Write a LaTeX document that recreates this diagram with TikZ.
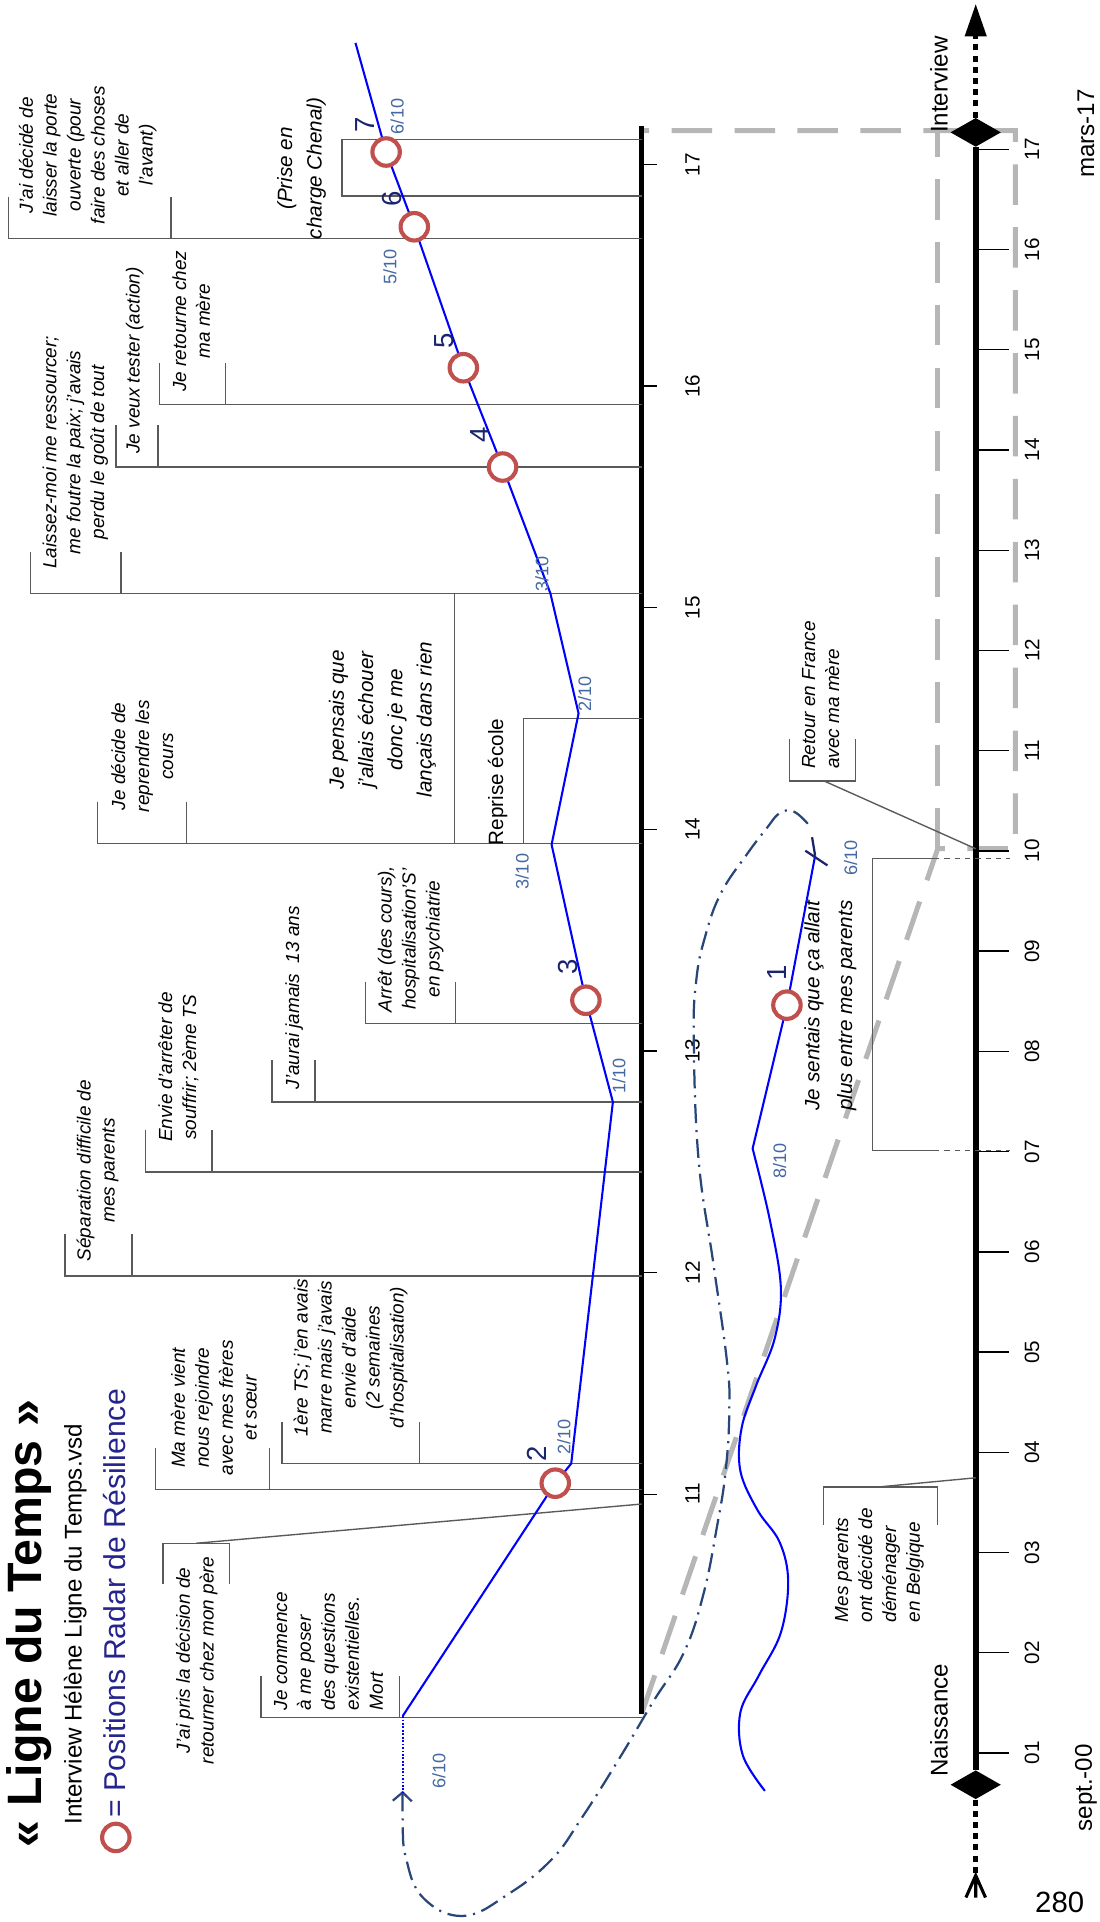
\documentclass[tikz,border=0pt]{standalone}
\usepackage{fontspec}
\setmainfont{Liberation Sans}
\usepackage{xcolor}
\usepackage{tikz}
\usetikzlibrary{calc}
\usetikzlibrary{arrows.meta}
\usetikzlibrary{shapes.geometric}

\definecolor{posblue}{RGB}{0,0,255}
\definecolor{radarred}{RGB}{192,80,77}
\definecolor{scoreblue}{RGB}{68,104,160}
\definecolor{pathnavy}{RGB}{40,70,120}
\definecolor{numnavy}{RGB}{25,35,110}
\definecolor{legendnavy}{RGB}{36,36,140}
\definecolor{leadgrey}{RGB}{90,90,90}
\definecolor{zoomgrey}{RGB}{182,182,182}

\begin{document}
\begin{tikzpicture}[x=0.025cm,y=-0.025cm,
	note/.style={rotate=90,font=\itshape\fontsize{11}{13.9}\selectfont,align=center,inner sep=0pt},
	bignote/.style={note,font=\itshape\fontsize{12}{17}\selectfont},
	leader/.style={draw=leadgrey,line width=0.8pt},
	radar/.style={circle,draw=radarred,fill=white,line width=2.4pt,minimum size=5.6mm,inner sep=0pt},
	posline/.style={draw=posblue,line width=1.2pt,line join=round},
	score/.style={rotate=90,text=scoreblue,font=\fontsize{10.5}{12}\selectfont,inner sep=0pt},
	num/.style={rotate=90,text=numnavy,font=\fontsize{16}{18}\selectfont,inner sep=0pt},
	axlab/.style={rotate=90,font=\fontsize{12}{14}\selectfont,inner sep=0pt},
	zoomline/.style={draw=zoomgrey,line width=2.9pt,dash pattern=on 23.5pt off 13pt},
	dotline/.style={line width=3pt,dash pattern=on 3.5pt off 3pt}]
		\useasboundingbox (0,0) rectangle (897,1568);
		% titre
		\node[rotate=90,anchor=base,font=\bfseries\fontsize{28}{30}\selectfont] (title) at (34,1324.5) {« Ligne du Temps »};
		\node[rotate=90,anchor=base,font=\fontsize{14}{16}\selectfont] (subtitle) at (66.5,1325) {Interview Hélène Ligne du Temps.vsd};
		\node[radar] (legcircle) at (94.5,1499) {};
		\node[rotate=90,anchor=base,text=legendnavy,font=\fontsize{17.5}{20}\selectfont] (legend) at (102,1308) {= Positions Radar de Résilience};
		\node[font=\fontsize{17}{19}\selectfont] (page) at (864.5,1552) {280};
		% zoom 2010-2017
		\draw[zoomline] (523.5,1398) -- (765,692.4) -- (828.4,692.4) -- (828.4,106.6) -- (523.5,106.6);
		\draw[zoomline] (765,692.4) -- (765,106.6);
		% axe des ages
		\draw[line width=2.6pt] (523.5,103) -- (523.5,1398);
		\foreach \a in {11,...,17}{
			\draw[line width=0.8pt] (523.5,{1219-(\a-11)*180.8}) -- (536,{1219-(\a-11)*180.8});
			\node[axlab] at (565,{1219-(\a-11)*180.8}) {\a};
		}
		% axe des annees
		\node[diamond,fill=black,minimum width=10.3mm,minimum height=5.9mm,inner sep=0pt] (birth) at (796,1456) {};
		\node[diamond,fill=black,minimum width=10.3mm,minimum height=5.9mm,inner sep=0pt] (interview) at (796,108) {};
		\draw[line width=3.5pt] (birth) -- (interview);
		\draw[dotline,-{Triangle[length=19pt,width=12pt]}] (interview.north) -- (796,3);
		\coordinate (tail) at (796,1530);
		\draw[dotline] (birth.south) -- (tail);
		\draw[line width=1.8pt] (788,1548) -- (tail) -- (804,1548) (tail) -- (796,1548);
		\foreach \lab [count=\k] in {01,02,03,04,05,06,07,08,09,10,11,12,13,14,15,16,17}{
			\draw[line width=0.8pt] (796,{1430.1-(\k-1)*81.77}) -- (823,{1430.1-(\k-1)*81.77});
			\node[axlab] at (842,{1430.1-(\k-1)*81.77}) {\lab};
		}
		\node[axlab,font=\fontsize{14}{16}\selectfont] (naissance) at (766,1403.5) {Naissance};
		\node[axlab,font=\fontsize{14}{16}\selectfont] (itw) at (766,69) {Interview};
		\node[axlab,font=\fontsize{14}{16}\selectfont] (start) at (886,1458.5) {sept.-00};
		\node[axlab,font=\fontsize{14}{16}\selectfont] (stop) at (886,109) {mars-17};
		% crochets
		\foreach \yy/\xl/\xr in {194.5/7/139.4,330/130/184,381/94.5/129,484/25/98.8,688/79.5/152,835/298/371.6,899/222/257,956/118.5/173,1041/53/107.6,1194/230/342,1215/127/220,1401/213/326}
			\draw[leader] (\xl,\yy-34) -- (\xl,\yy) -- (523.5,\yy) (\xr,\yy) -- (\xr,\yy-34);
		\draw[leader] (523.5,113.7) -- (279,113.7) -- (279,160) -- (523.5,160);
		\draw[leader] (371,484) -- (371,688);
		\draw[leader] (523.5,586) -- (427,586) -- (427,688);
		\draw[leader] (133,1292) -- (133,1259) -- (187,1259) -- (187,1292);
		\draw[leader] (160,1259) -- (523.5,1227);
		\draw[leader] (672,1244) -- (672,1213) -- (765,1213) -- (765,1244);
		\draw[leader] (717.5,1213) -- (796,1205.6);
		\draw[leader] (644,603) -- (644,637) -- (698,637) -- (698,603);
		\draw[leader] (672,637) -- (796,692.4);
		\draw[leader] (762,700.6) -- (712,700.6) -- (712,938.6) -- (762,938.6);
		\draw[leader,dashed] (762,700.6) -- (824,700.6) (762,938.6) -- (824,938.6);
		% textes
		\node[note] (porte) at (71.5,126.5) {J'ai décidé de\\laisser la porte\\ouverte (pour\\faire des choses\\et aller de\\l'avant)};
		\node[note] (retourne) at (156,262) {Je retourne chez\\ma mère};
		\node[note] (tester) at (110,294) {Je veux tester (action)};
		\node[note] (laissez) at (61.5,369) {Laissez-moi me ressourcer;\\me foutre la paix; j'avais\\perdu le goût de tout};
		\node[note] (cours) at (116,617) {Je décide de\\reprendre les\\cours};
		\node[note] (arret) at (335,766) {Arrêt (des cours),\\hospitalisation'S'\\en psychiatrie};
		\node[note] (jamais) at (240,814) {J'aurai jamais\ \ 13 ans};
		\node[note] (envie) at (145.5,870.5) {Envie d'arrêter de\\souffrir; 2ème TS};
		\node[note] (separation) at (79.6,955) {Séparation difficile de\\mes parents};
		\node[note] (ts) at (286,1107.5) {1ère TS; j'en avais\\marre mais j'avais\\envie d'aide\\(2 semaines\\d'hospitalisation)};
		\node[note] (rejoindre) at (174.5,1148.5) {Ma mère vient\\nous rejoindre\\avec mes frères\\et sœur};
		\node[note,align=left] (commence) at (268,1347) {Je commence\\à me poser\\des questions\\existentielles.\\Mort};
		\node[note] (pere) at (160.5,1354.5) {J'ai pris la décision de\\retourner chez mon père};
		\node[bignote] (chenal) at (246,137.4) {(Prise en\\charge Chenal)};
		\node[bignote] (pensais) at (312,587) {Je pensais que\\j'allais échouer\\donc je me\\lançais dans rien};
		\node[axlab] (reprise) at (406,638) {Reprise école};
		\node[note,align=left] (belgique) at (717.5,1277) {Mes parents\\ont décidé de\\déménager\\en Belgique};
		\node[note,align=left] (france) at (669.5,567) {Retour en France\\avec ma mère};
		\node[bignote,font=\itshape\fontsize{12}{19}\selectfont] (sentais) at (677.5,820.5) {Je sentais que ça allait\\plus entre mes parents};
		% boucle
		\draw[pathnavy,line width=1.3pt,dash pattern=on 11pt off 4pt on 1.2pt off 4pt,-{Straight Barb[length=5pt,width=11pt]}] plot[smooth,tension=0.7] coordinates {(659,672) (650,663.5) (642,661) (634,665) (626,675) (610,696) (588,729) (575,765) (568,800) (566,849) (570,947) (582,1031) (593,1110) (595,1150) (592,1200) (585,1245) (574,1300) (558,1348) (533,1388) (505,1435) (474,1484) (450,1517) (415,1545) (378,1563) (345,1548) (331,1515) (328.5,1485) (328.5,1461)};
		% positions
		\coordinate (b0) at (328.5,1400);
		\coordinate (p2) at (453,1210);
		\coordinate (k1) at (466,1194);
		\coordinate (k2) at (500,899);
		\coordinate (p3) at (478,816);
		\coordinate (k3) at (450,689);
		\coordinate (k4) at (472,582);
		\coordinate (k5) at (449,484);
		\coordinate (p4) at (410,381);
		\coordinate (p5) at (378,300);
		\coordinate (p6) at (338,185);
		\coordinate (p7) at (315,124);
		\coordinate (bend) at (290,35);
		\coordinate (p1) at (642,820);
		\coordinate (p1end) at (665,698);
		\draw[posblue,line width=1pt,dash pattern=on 1pt off 1pt] (b0) -- (328.5,1462);
		\draw[posline] (b0) -- (p2) -- (k1) -- (k2) -- (p3) -- (k3) -- (k4) -- (k5) -- (p4) -- (p5) -- (p6) -- (p7) -- (bend);
		\draw[posline] plot[smooth,tension=0.6] coordinates {(624,1461) (606,1432) (604,1397) (619,1367) (637,1332) (643,1290) (636,1258) (618,1232) (604,1200) (605,1165) (617,1130) (632,1092) (637,1050) (628,995) (614,937)} -- (p1) -- (p1end);
		\draw[numnavy,line width=1.3pt] (657,694) -- (675,706) (662.5,683) -- (p1end);
		\foreach \p/\n in {p1/1,p2/2,p3/3,p4/4,p5/5,p6/6,p7/7}
			\node[radar] (r\n) at (\p) {};
		\node[num] at (634,794) {1};
		\node[num] at (438,1186) {2};
		\node[num] at (463,789) {3};
		\node[num] at (392,355) {4};
		\node[num] at (362,278) {5};
		\node[num] at (320,162) {6};
		\node[num] at (298,102) {7};
		\node[score] at (358,1445) {6/10};
		\node[score] at (460,1172) {2/10};
		\node[score] at (505,878) {1/10};
		\node[score] at (426,711) {3/10};
		\node[score] at (477,566) {2/10};
		\node[score] at (442,468) {3/10};
		\node[score] at (318,218) {5/10};
		\node[score] at (324,95) {6/10};
		\node[score] at (636,947) {8/10};
		\node[score] at (694,700) {6/10};
	\end{tikzpicture}
\end{document}
